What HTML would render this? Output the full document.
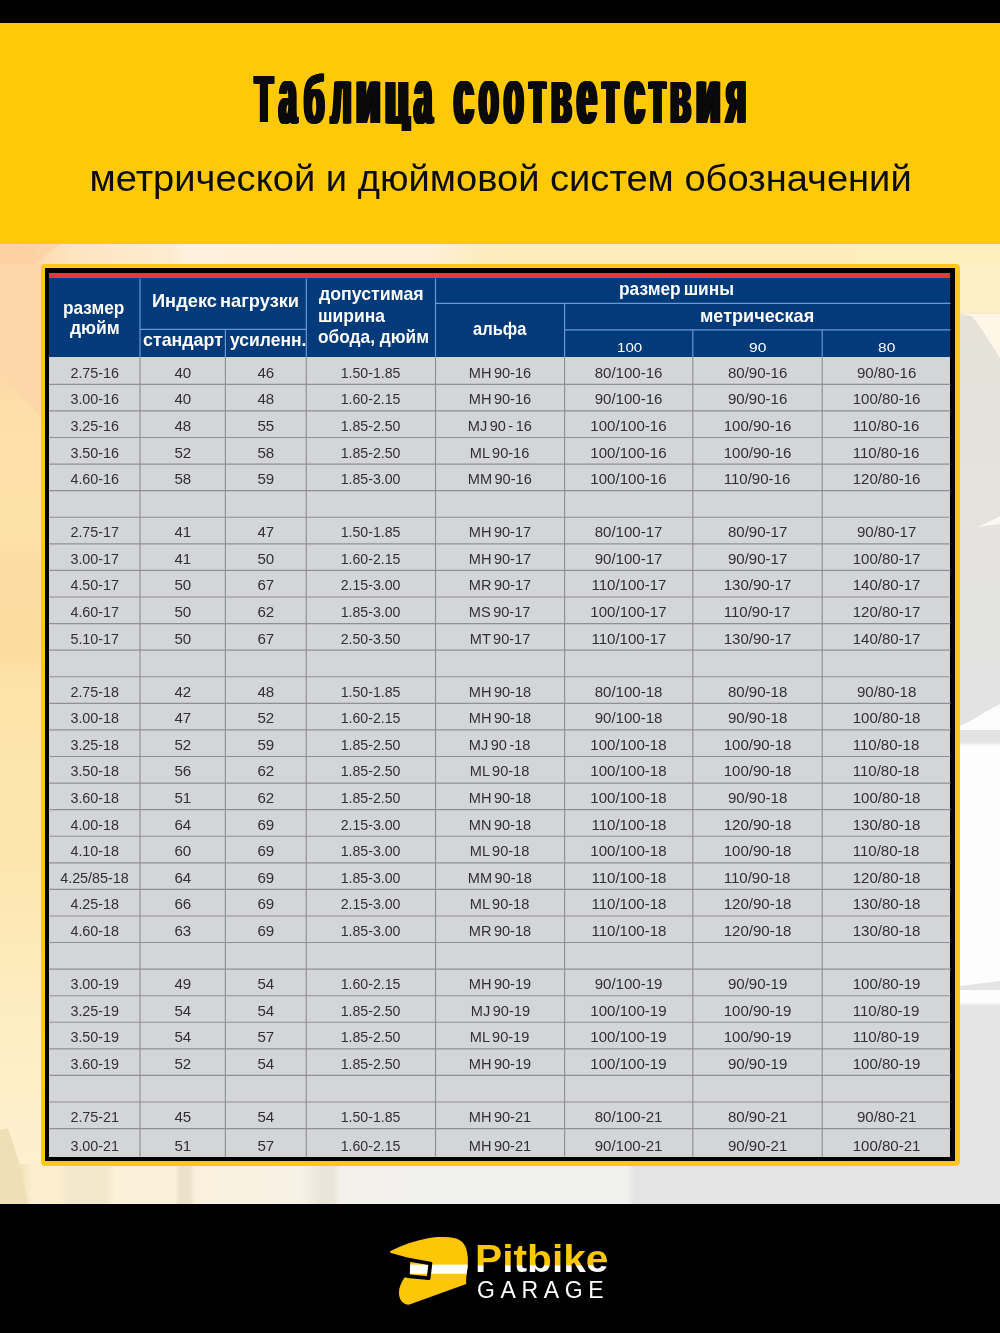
<!DOCTYPE html>
<html lang="ru"><head><meta charset="utf-8"><title>Таблица соответствия</title>
<style>
html,body{margin:0;padding:0}
html{width:1000px;height:1333px;overflow:hidden;background:#000}
body{width:1000px;height:1333px;position:relative;overflow:hidden;background:#fbefd2;font-family:"Liberation Sans",sans-serif}
.abs{position:absolute}
#topbar{left:0;top:0;width:1000px;height:22.5px;background:#000}
#head{left:0;top:22.5px;width:1000px;height:222.3px;background:#ffc907}
#bg{left:0;top:244px;width:1000px;height:960px;overflow:hidden;background:#d4d5d7}
#foot{left:0;top:1203.5px;width:1000px;height:129.5px;background:#000}
.tt{position:absolute;font-weight:bold;color:#0a0a0a;white-space:nowrap;line-height:90px;height:90px}
.tt span{display:inline-block;text-shadow:1.175px 0 0 #0a0a0a,-1.175px 0 0 #0a0a0a,2.35px 0 0 #0a0a0a,-2.35px 0 0 #0a0a0a,3.525px 0 0 #0a0a0a,-3.525px 0 0 #0a0a0a,4.7px 0 0 #0a0a0a,-4.7px 0 0 #0a0a0a}
#sub{left:0.75px;top:154.4px;width:999px;text-align:center;font-size:37.5px;line-height:48px;color:#0c0c0c;white-space:nowrap}
#sub span{display:inline-block;transform-origin:50% 50%;transform:scaleX(1.016)}
#fy{left:40.8px;top:263.7px;width:919.4px;height:901.9px;background:#fdc916;border-radius:4px}
#fb{left:45px;top:268.2px;width:910.2px;height:893px;background:#000}
#red{left:49px;top:272.7px;width:901.3px;height:6px;background:#e03c31}
#blue{left:49px;top:278.4px;width:901.3px;height:78.8px;background:#023a7a}
#grey{left:49px;top:357px;width:901.3px;height:799.8px;background:#d4d5d7}
.hl{position:absolute;background:#5f8fca}
.gl{position:absolute;background:#8e9093}
.c{position:absolute;text-align:center;font-size:14px;line-height:16px;height:16px;color:#303036;white-space:nowrap}
.c span{display:inline-block;transform-origin:50% 50%}
.h{position:absolute;color:#fff;font-weight:bold;white-space:nowrap}
.h span,.hn span{display:inline-block;transform-origin:0 50%}
.hn{position:absolute;color:#fff;white-space:nowrap}
</style></head><body>
<div id="topbar" class="abs"></div>
<div id="head" class="abs"></div>
<div class="tt" style="left:255.39px;top:54.3px;font-size:67px"><span style="transform-origin:0 68.5px;transform:scaleX(0.4367)">Т</span></div>
<div class="tt" style="left:279.11px;top:50.8px;font-size:77px"><span style="transform-origin:0 72.0px;transform:scaleX(0.4150)">а</span></div>
<div class="tt" style="left:304.42px;top:50.8px;font-size:77px"><span style="transform-origin:0 72.0px;transform:scale(0.4280,0.875)">б</span></div>
<div class="tt" style="left:331.13px;top:50.8px;font-size:77px"><span style="transform-origin:0 72.0px;transform:scaleX(0.4206)">л</span></div>
<div class="tt" style="left:356.09px;top:50.8px;font-size:77px"><span style="transform-origin:0 72.0px;transform:scaleX(0.5188)">и</span></div>
<div class="tt" style="left:385.18px;top:50.8px;font-size:77px"><span style="clip-path:inset(0 -10px 9.7px -10px);transform-origin:0 72.0px;transform:scaleX(0.5096)">ц</span></div>
<div class="tt" style="left:414px;top:50.8px;font-size:77px"><span style="transform-origin:0 72.0px;transform:scaleX(0.4271)">а</span></div>
<div class="tt" style="left:453.61px;top:50.8px;font-size:77px"><span style="transform-origin:0 72.0px;transform:scaleX(0.4570)">с</span></div>
<div class="tt" style="left:479.36px;top:50.8px;font-size:77px"><span style="transform-origin:0 72.0px;transform:scaleX(0.4136)">о</span></div>
<div class="tt" style="left:504.36px;top:50.8px;font-size:77px"><span style="transform-origin:0 72.0px;transform:scaleX(0.4136)">о</span></div>
<div class="tt" style="left:529px;top:50.8px;font-size:77px"><span style="transform-origin:0 72.0px;transform:scaleX(0.4500)">т</span></div>
<div class="tt" style="left:551.09px;top:50.8px;font-size:77px"><span style="transform-origin:0 72.0px;transform:scaleX(0.4360)">в</span></div>
<div class="tt" style="left:576.6px;top:50.8px;font-size:77px"><span style="transform-origin:0 72.0px;transform:scaleX(0.4590)">е</span></div>
<div class="tt" style="left:602.2px;top:50.8px;font-size:77px"><span style="transform-origin:0 72.0px;transform:scaleX(0.4500)">т</span></div>
<div class="tt" style="left:624.59px;top:50.8px;font-size:77px"><span style="transform-origin:0 72.0px;transform:scaleX(0.4585)">с</span></div>
<div class="tt" style="left:648.8px;top:50.8px;font-size:77px"><span style="transform-origin:0 72.0px;transform:scaleX(0.4500)">т</span></div>
<div class="tt" style="left:670.2px;top:50.8px;font-size:77px"><span style="transform-origin:0 72.0px;transform:scaleX(0.4418)">в</span></div>
<div class="tt" style="left:696.09px;top:50.8px;font-size:77px"><span style="transform-origin:0 72.0px;transform:scaleX(0.5188)">и</span></div>
<div class="tt" style="left:725.95px;top:50.8px;font-size:77px"><span style="transform-origin:0 72.0px;transform:scaleX(0.4518)">я</span></div>
<div id="sub" class="abs"><span>метрической и дюймовой систем обозначений</span></div>
<div id="bg" class="abs"><div class="abs" style="left:0;top:0;width:1000px;height:20px;background:linear-gradient(to right,#fdd2a5 0,#fdd4a8 35px,#feddb5 45px,#fee3bf 70px,#fee8c8 120px,#feebcf 170px,#fff1dc 185px,#fff0d8 430px,#feecc2 470px,#feedba 520px,#feedba 750px,#feefbe 1000px)"></div>
<div class="abs" style="left:0;top:20px;width:45px;height:940px;background:linear-gradient(to bottom,#fdd6a6 0,#fdd8a8 110px,#fde0a8 150px,#fde2a8 270px,#fcdca2 300px,#fcdba0 390px,#fde3a8 420px,#fde6ae 600px,#fdebbc 700px,#feefc8 820px,#fdf0cf 900px,#f9ecca 960px)"></div>
<div class="abs" style="left:955px;top:20px;width:45px;height:940px;background:linear-gradient(to bottom,#fdf0c6 0,#fdf0c6 48px,#e6e2d8 52px,#e4e2dc 150px,#e4e3df 300px,#e3e3e3 420px,#e3e3e3 478px,#fcfcfc 482px,#fdfdfd 738px,#e4e4e4 742px,#e5e5e5 940px)"></div>
<div class="abs" style="left:0;top:920px;width:1000px;height:40px;background:linear-gradient(to right,#f0e0b8 0,#f3e4bd 22px,#fdf0d2 34px,#fbeecf 60px,#f3e8cc 70px,#f3e8cc 105px,#fbf0d8 115px,#faf0da 175px,#ece2cc 180px,#ece2cc 190px,#faf1dd 195px,#f8f2e6 300px,#ebe5d9 322px,#ebe5d9 334px,#f3f1eb 340px,#f0f0ee 450px,#f0f0ee 628px,#e4e4e4 634px,#e5e5e5 1000px)"></div>
<svg class="abs" style="left:0;top:0" width="1000" height="960" viewBox="0 244 1000 960">
<polygon points="0,244 60,244 0,290" fill="#fdd0a0" opacity="0.6"/>
<polygon points="0,372 41,418 41,264 0,264" fill="#fdd7a8"/>
<polygon points="962,314 972,316 982,330 1000,358 1000,314" fill="#fef7e8"/>
<polygon points="978,527 1000,516 1000,524" fill="#faf8f2"/>
<polygon points="960,726 972,720 985,712 1000,704 1000,730 960,730" fill="#fcfcfc"/>
<polygon points="960,986 1000,981 1000,990 960,990" fill="#e4e4e4"/>
<polygon points="0,1130 8,1128 20,1165 28,1204 0,1204" fill="#efdfb6"/>
</svg></div>
<div id="fy" class="abs"></div><div id="fb" class="abs"></div>
<div id="red" class="abs"></div><div id="blue" class="abs"></div><div id="grey" class="abs"></div>

<svg class="abs" style="left:0;top:0" width="1000" height="1333" viewBox="0 0 1000 1333">
<line x1="140.00" y1="278.40" x2="140.00" y2="357.00" stroke="#6a98d2" stroke-width="1.2"/>
<line x1="225.40" y1="329.30" x2="225.40" y2="357.00" stroke="#6a98d2" stroke-width="1.2"/>
<line x1="306.30" y1="278.40" x2="306.30" y2="357.00" stroke="#6a98d2" stroke-width="1.2"/>
<line x1="435.50" y1="278.40" x2="435.50" y2="357.00" stroke="#6a98d2" stroke-width="1.2"/>
<line x1="564.60" y1="303.30" x2="564.60" y2="357.00" stroke="#6a98d2" stroke-width="1.2"/>
<line x1="692.80" y1="329.80" x2="692.80" y2="357.00" stroke="#6a98d2" stroke-width="1.2"/>
<line x1="822.20" y1="329.80" x2="822.20" y2="357.00" stroke="#6a98d2" stroke-width="1.2"/>
<line x1="140.00" y1="329.30" x2="306.30" y2="329.30" stroke="#6a98d2" stroke-width="1.2"/>
<line x1="435.50" y1="303.30" x2="950.50" y2="303.30" stroke="#6a98d2" stroke-width="1.2"/>
<line x1="564.60" y1="329.80" x2="950.50" y2="329.80" stroke="#6a98d2" stroke-width="1.2"/>
<line x1="140.00" y1="357.00" x2="140.00" y2="1156.80" stroke="#8f9093" stroke-width="1.15"/>
<line x1="225.40" y1="357.00" x2="225.40" y2="1156.80" stroke="#8f9093" stroke-width="1.15"/>
<line x1="306.30" y1="357.00" x2="306.30" y2="1156.80" stroke="#8f9093" stroke-width="1.15"/>
<line x1="435.50" y1="357.00" x2="435.50" y2="1156.80" stroke="#8f9093" stroke-width="1.15"/>
<line x1="564.60" y1="357.00" x2="564.60" y2="1156.80" stroke="#8f9093" stroke-width="1.15"/>
<line x1="692.80" y1="357.00" x2="692.80" y2="1156.80" stroke="#8f9093" stroke-width="1.15"/>
<line x1="822.20" y1="357.00" x2="822.20" y2="1156.80" stroke="#8f9093" stroke-width="1.15"/>
<line x1="49.00" y1="384.36" x2="950.50" y2="384.36" stroke="#8f9093" stroke-width="1.15"/>
<line x1="49.00" y1="410.94" x2="950.50" y2="410.94" stroke="#8f9093" stroke-width="1.15"/>
<line x1="49.00" y1="437.52" x2="950.50" y2="437.52" stroke="#8f9093" stroke-width="1.15"/>
<line x1="49.00" y1="464.10" x2="950.50" y2="464.10" stroke="#8f9093" stroke-width="1.15"/>
<line x1="49.00" y1="490.68" x2="950.50" y2="490.68" stroke="#8f9093" stroke-width="1.15"/>
<line x1="49.00" y1="517.26" x2="950.50" y2="517.26" stroke="#8f9093" stroke-width="1.15"/>
<line x1="49.00" y1="543.84" x2="950.50" y2="543.84" stroke="#8f9093" stroke-width="1.15"/>
<line x1="49.00" y1="570.42" x2="950.50" y2="570.42" stroke="#8f9093" stroke-width="1.15"/>
<line x1="49.00" y1="597.00" x2="950.50" y2="597.00" stroke="#8f9093" stroke-width="1.15"/>
<line x1="49.00" y1="623.58" x2="950.50" y2="623.58" stroke="#8f9093" stroke-width="1.15"/>
<line x1="49.00" y1="650.16" x2="950.50" y2="650.16" stroke="#8f9093" stroke-width="1.15"/>
<line x1="49.00" y1="676.74" x2="950.50" y2="676.74" stroke="#8f9093" stroke-width="1.15"/>
<line x1="49.00" y1="703.32" x2="950.50" y2="703.32" stroke="#8f9093" stroke-width="1.15"/>
<line x1="49.00" y1="729.90" x2="950.50" y2="729.90" stroke="#8f9093" stroke-width="1.15"/>
<line x1="49.00" y1="756.48" x2="950.50" y2="756.48" stroke="#8f9093" stroke-width="1.15"/>
<line x1="49.00" y1="783.06" x2="950.50" y2="783.06" stroke="#8f9093" stroke-width="1.15"/>
<line x1="49.00" y1="809.64" x2="950.50" y2="809.64" stroke="#8f9093" stroke-width="1.15"/>
<line x1="49.00" y1="836.22" x2="950.50" y2="836.22" stroke="#8f9093" stroke-width="1.15"/>
<line x1="49.00" y1="862.80" x2="950.50" y2="862.80" stroke="#8f9093" stroke-width="1.15"/>
<line x1="49.00" y1="889.38" x2="950.50" y2="889.38" stroke="#8f9093" stroke-width="1.15"/>
<line x1="49.00" y1="915.96" x2="950.50" y2="915.96" stroke="#8f9093" stroke-width="1.15"/>
<line x1="49.00" y1="942.54" x2="950.50" y2="942.54" stroke="#8f9093" stroke-width="1.15"/>
<line x1="49.00" y1="969.12" x2="950.50" y2="969.12" stroke="#8f9093" stroke-width="1.15"/>
<line x1="49.00" y1="995.70" x2="950.50" y2="995.70" stroke="#8f9093" stroke-width="1.15"/>
<line x1="49.00" y1="1022.28" x2="950.50" y2="1022.28" stroke="#8f9093" stroke-width="1.15"/>
<line x1="49.00" y1="1048.86" x2="950.50" y2="1048.86" stroke="#8f9093" stroke-width="1.15"/>
<line x1="49.00" y1="1075.44" x2="950.50" y2="1075.44" stroke="#8f9093" stroke-width="1.15"/>
<line x1="49.00" y1="1102.02" x2="950.50" y2="1102.02" stroke="#8f9093" stroke-width="1.15"/>
<line x1="49.00" y1="1128.60" x2="950.50" y2="1128.60" stroke="#8f9093" stroke-width="1.15"/>
</svg>
<div class="h" style="left:62.68px;top:296.8px;font-size:18.5px;line-height:22.2px;"><span style="transform:scaleX(0.9327)">размер</span></div>
<div class="h" style="left:70.06px;top:317.4px;font-size:18.5px;line-height:22.2px;"><span style="transform:scaleX(0.9462)">дюйм</span></div>
<div class="h" style="left:151.52px;top:289.9px;font-size:18.5px;line-height:22.2px;word-spacing:-2px;"><span style="transform:scaleX(0.9867)">Индекс нагрузки</span></div>
<div class="h" style="left:142.73px;top:329.3px;font-size:18.5px;line-height:22.2px;"><span style="transform:scaleX(0.9627)">стандарт</span></div>
<div class="h" style="left:229.96px;top:329.3px;font-size:18.5px;line-height:22.2px;"><span style="transform:scaleX(0.9464)">усиленн.</span></div>
<div class="h" style="left:318.66px;top:283px;font-size:18.5px;line-height:22.2px;"><span style="transform:scaleX(0.9578)">допустимая</span></div>
<div class="h" style="left:318.37px;top:304.5px;font-size:18.5px;line-height:22.2px;"><span style="transform:scaleX(0.9434)">ширина</span></div>
<div class="h" style="left:318.44px;top:325.8px;font-size:18.5px;line-height:22.2px;"><span style="transform:scaleX(0.9357)">обода, дюйм</span></div>
<div class="h" style="left:473.01px;top:318.4px;font-size:18.5px;line-height:22.2px;"><span style="transform:scaleX(0.8915)">альфа</span></div>
<div class="h" style="left:619.08px;top:278.25px;font-size:18.5px;line-height:22.2px;word-spacing:-2px;"><span style="transform:scaleX(0.9372)">размер шины</span></div>
<div class="h" style="left:700.43px;top:304.8px;font-size:18.5px;line-height:22.2px;"><span style="transform:scaleX(0.9773)">метрическая</span></div>
<div class="hn" style="left:616.73px;top:339.95px;font-size:13.6px;line-height:16.3px;"><span style="transform:scaleX(1.1111)">100</span></div>
<div class="hn" style="left:749.25px;top:339.95px;font-size:13.6px;line-height:16.3px;"><span style="transform:scaleX(1.1470)">90</span></div>
<div class="hn" style="left:877.81px;top:339.95px;font-size:13.6px;line-height:16.3px;"><span style="transform:scaleX(1.1429)">80</span></div>
<div class="c" style="left:49px;top:364.78px;width:91px;"><span style="transform:scaleX(1.025)">2.75-16</span></div>
<div class="c" style="left:140px;top:364.78px;width:85.4px;"><span style="transform:scaleX(1.080)">40</span></div>
<div class="c" style="left:225.4px;top:364.78px;width:80.9px;"><span style="transform:scaleX(1.080)">46</span></div>
<div class="c" style="left:306.3px;top:364.78px;width:129.2px;"><span style="transform:scaleX(1.010)">1.50-1.85</span></div>
<div class="c" style="left:435.5px;top:364.78px;width:129.1px;word-spacing:-1.5px;"><span style="transform:scaleX(1.040)">MH 90-16</span></div>
<div class="c" style="left:564.6px;top:364.78px;width:128.2px;"><span style="transform:scaleX(1.075)">80/100-16</span></div>
<div class="c" style="left:692.8px;top:364.78px;width:129.4px;"><span style="transform:scaleX(1.075)">80/90-16</span></div>
<div class="c" style="left:822.2px;top:364.78px;width:128.3px;"><span style="transform:scaleX(1.075)">90/80-16</span></div>
<div class="c" style="left:49px;top:391.36px;width:91px;"><span style="transform:scaleX(1.025)">3.00-16</span></div>
<div class="c" style="left:140px;top:391.36px;width:85.4px;"><span style="transform:scaleX(1.080)">40</span></div>
<div class="c" style="left:225.4px;top:391.36px;width:80.9px;"><span style="transform:scaleX(1.080)">48</span></div>
<div class="c" style="left:306.3px;top:391.36px;width:129.2px;"><span style="transform:scaleX(1.010)">1.60-2.15</span></div>
<div class="c" style="left:435.5px;top:391.36px;width:129.1px;word-spacing:-1.5px;"><span style="transform:scaleX(1.040)">MH 90-16</span></div>
<div class="c" style="left:564.6px;top:391.36px;width:128.2px;"><span style="transform:scaleX(1.075)">90/100-16</span></div>
<div class="c" style="left:692.8px;top:391.36px;width:129.4px;"><span style="transform:scaleX(1.075)">90/90-16</span></div>
<div class="c" style="left:822.2px;top:391.36px;width:128.3px;"><span style="transform:scaleX(1.075)">100/80-16</span></div>
<div class="c" style="left:49px;top:417.94px;width:91px;"><span style="transform:scaleX(1.025)">3.25-16</span></div>
<div class="c" style="left:140px;top:417.94px;width:85.4px;"><span style="transform:scaleX(1.080)">48</span></div>
<div class="c" style="left:225.4px;top:417.94px;width:80.9px;"><span style="transform:scaleX(1.080)">55</span></div>
<div class="c" style="left:306.3px;top:417.94px;width:129.2px;"><span style="transform:scaleX(1.010)">1.85-2.50</span></div>
<div class="c" style="left:435.5px;top:417.94px;width:129.1px;word-spacing:-1.5px;"><span style="transform:scaleX(1.040)">MJ 90 - 16</span></div>
<div class="c" style="left:564.6px;top:417.94px;width:128.2px;"><span style="transform:scaleX(1.075)">100/100-16</span></div>
<div class="c" style="left:692.8px;top:417.94px;width:129.4px;"><span style="transform:scaleX(1.075)">100/90-16</span></div>
<div class="c" style="left:822.2px;top:417.94px;width:128.3px;"><span style="transform:scaleX(1.075)">110/80-16</span></div>
<div class="c" style="left:49px;top:444.52px;width:91px;"><span style="transform:scaleX(1.025)">3.50-16</span></div>
<div class="c" style="left:140px;top:444.52px;width:85.4px;"><span style="transform:scaleX(1.080)">52</span></div>
<div class="c" style="left:225.4px;top:444.52px;width:80.9px;"><span style="transform:scaleX(1.080)">58</span></div>
<div class="c" style="left:306.3px;top:444.52px;width:129.2px;"><span style="transform:scaleX(1.010)">1.85-2.50</span></div>
<div class="c" style="left:435.5px;top:444.52px;width:129.1px;word-spacing:-1.5px;"><span style="transform:scaleX(1.040)">ML 90-16</span></div>
<div class="c" style="left:564.6px;top:444.52px;width:128.2px;"><span style="transform:scaleX(1.075)">100/100-16</span></div>
<div class="c" style="left:692.8px;top:444.52px;width:129.4px;"><span style="transform:scaleX(1.075)">100/90-16</span></div>
<div class="c" style="left:822.2px;top:444.52px;width:128.3px;"><span style="transform:scaleX(1.075)">110/80-16</span></div>
<div class="c" style="left:49px;top:471.1px;width:91px;"><span style="transform:scaleX(1.025)">4.60-16</span></div>
<div class="c" style="left:140px;top:471.1px;width:85.4px;"><span style="transform:scaleX(1.080)">58</span></div>
<div class="c" style="left:225.4px;top:471.1px;width:80.9px;"><span style="transform:scaleX(1.080)">59</span></div>
<div class="c" style="left:306.3px;top:471.1px;width:129.2px;"><span style="transform:scaleX(1.010)">1.85-3.00</span></div>
<div class="c" style="left:435.5px;top:471.1px;width:129.1px;word-spacing:-1.5px;"><span style="transform:scaleX(1.040)">MM 90-16</span></div>
<div class="c" style="left:564.6px;top:471.1px;width:128.2px;"><span style="transform:scaleX(1.075)">100/100-16</span></div>
<div class="c" style="left:692.8px;top:471.1px;width:129.4px;"><span style="transform:scaleX(1.075)">110/90-16</span></div>
<div class="c" style="left:822.2px;top:471.1px;width:128.3px;"><span style="transform:scaleX(1.075)">120/80-16</span></div>
<div class="c" style="left:49px;top:524.26px;width:91px;"><span style="transform:scaleX(1.025)">2.75-17</span></div>
<div class="c" style="left:140px;top:524.26px;width:85.4px;"><span style="transform:scaleX(1.080)">41</span></div>
<div class="c" style="left:225.4px;top:524.26px;width:80.9px;"><span style="transform:scaleX(1.080)">47</span></div>
<div class="c" style="left:306.3px;top:524.26px;width:129.2px;"><span style="transform:scaleX(1.010)">1.50-1.85</span></div>
<div class="c" style="left:435.5px;top:524.26px;width:129.1px;word-spacing:-1.5px;"><span style="transform:scaleX(1.040)">MH 90-17</span></div>
<div class="c" style="left:564.6px;top:524.26px;width:128.2px;"><span style="transform:scaleX(1.075)">80/100-17</span></div>
<div class="c" style="left:692.8px;top:524.26px;width:129.4px;"><span style="transform:scaleX(1.075)">80/90-17</span></div>
<div class="c" style="left:822.2px;top:524.26px;width:128.3px;"><span style="transform:scaleX(1.075)">90/80-17</span></div>
<div class="c" style="left:49px;top:550.84px;width:91px;"><span style="transform:scaleX(1.025)">3.00-17</span></div>
<div class="c" style="left:140px;top:550.84px;width:85.4px;"><span style="transform:scaleX(1.080)">41</span></div>
<div class="c" style="left:225.4px;top:550.84px;width:80.9px;"><span style="transform:scaleX(1.080)">50</span></div>
<div class="c" style="left:306.3px;top:550.84px;width:129.2px;"><span style="transform:scaleX(1.010)">1.60-2.15</span></div>
<div class="c" style="left:435.5px;top:550.84px;width:129.1px;word-spacing:-1.5px;"><span style="transform:scaleX(1.040)">MH 90-17</span></div>
<div class="c" style="left:564.6px;top:550.84px;width:128.2px;"><span style="transform:scaleX(1.075)">90/100-17</span></div>
<div class="c" style="left:692.8px;top:550.84px;width:129.4px;"><span style="transform:scaleX(1.075)">90/90-17</span></div>
<div class="c" style="left:822.2px;top:550.84px;width:128.3px;"><span style="transform:scaleX(1.075)">100/80-17</span></div>
<div class="c" style="left:49px;top:577.42px;width:91px;"><span style="transform:scaleX(1.025)">4.50-17</span></div>
<div class="c" style="left:140px;top:577.42px;width:85.4px;"><span style="transform:scaleX(1.080)">50</span></div>
<div class="c" style="left:225.4px;top:577.42px;width:80.9px;"><span style="transform:scaleX(1.080)">67</span></div>
<div class="c" style="left:306.3px;top:577.42px;width:129.2px;"><span style="transform:scaleX(1.010)">2.15-3.00</span></div>
<div class="c" style="left:435.5px;top:577.42px;width:129.1px;word-spacing:-1.5px;"><span style="transform:scaleX(1.040)">MR 90-17</span></div>
<div class="c" style="left:564.6px;top:577.42px;width:128.2px;"><span style="transform:scaleX(1.075)">110/100-17</span></div>
<div class="c" style="left:692.8px;top:577.42px;width:129.4px;"><span style="transform:scaleX(1.075)">130/90-17</span></div>
<div class="c" style="left:822.2px;top:577.42px;width:128.3px;"><span style="transform:scaleX(1.075)">140/80-17</span></div>
<div class="c" style="left:49px;top:604px;width:91px;"><span style="transform:scaleX(1.025)">4.60-17</span></div>
<div class="c" style="left:140px;top:604px;width:85.4px;"><span style="transform:scaleX(1.080)">50</span></div>
<div class="c" style="left:225.4px;top:604px;width:80.9px;"><span style="transform:scaleX(1.080)">62</span></div>
<div class="c" style="left:306.3px;top:604px;width:129.2px;"><span style="transform:scaleX(1.010)">1.85-3.00</span></div>
<div class="c" style="left:435.5px;top:604px;width:129.1px;word-spacing:-1.5px;"><span style="transform:scaleX(1.040)">MS 90-17</span></div>
<div class="c" style="left:564.6px;top:604px;width:128.2px;"><span style="transform:scaleX(1.075)">100/100-17</span></div>
<div class="c" style="left:692.8px;top:604px;width:129.4px;"><span style="transform:scaleX(1.075)">110/90-17</span></div>
<div class="c" style="left:822.2px;top:604px;width:128.3px;"><span style="transform:scaleX(1.075)">120/80-17</span></div>
<div class="c" style="left:49px;top:630.58px;width:91px;"><span style="transform:scaleX(1.025)">5.10-17</span></div>
<div class="c" style="left:140px;top:630.58px;width:85.4px;"><span style="transform:scaleX(1.080)">50</span></div>
<div class="c" style="left:225.4px;top:630.58px;width:80.9px;"><span style="transform:scaleX(1.080)">67</span></div>
<div class="c" style="left:306.3px;top:630.58px;width:129.2px;"><span style="transform:scaleX(1.010)">2.50-3.50</span></div>
<div class="c" style="left:435.5px;top:630.58px;width:129.1px;word-spacing:-1.5px;"><span style="transform:scaleX(1.040)">MT 90-17</span></div>
<div class="c" style="left:564.6px;top:630.58px;width:128.2px;"><span style="transform:scaleX(1.075)">110/100-17</span></div>
<div class="c" style="left:692.8px;top:630.58px;width:129.4px;"><span style="transform:scaleX(1.075)">130/90-17</span></div>
<div class="c" style="left:822.2px;top:630.58px;width:128.3px;"><span style="transform:scaleX(1.075)">140/80-17</span></div>
<div class="c" style="left:49px;top:683.74px;width:91px;"><span style="transform:scaleX(1.025)">2.75-18</span></div>
<div class="c" style="left:140px;top:683.74px;width:85.4px;"><span style="transform:scaleX(1.080)">42</span></div>
<div class="c" style="left:225.4px;top:683.74px;width:80.9px;"><span style="transform:scaleX(1.080)">48</span></div>
<div class="c" style="left:306.3px;top:683.74px;width:129.2px;"><span style="transform:scaleX(1.010)">1.50-1.85</span></div>
<div class="c" style="left:435.5px;top:683.74px;width:129.1px;word-spacing:-1.5px;"><span style="transform:scaleX(1.040)">MH 90-18</span></div>
<div class="c" style="left:564.6px;top:683.74px;width:128.2px;"><span style="transform:scaleX(1.075)">80/100-18</span></div>
<div class="c" style="left:692.8px;top:683.74px;width:129.4px;"><span style="transform:scaleX(1.075)">80/90-18</span></div>
<div class="c" style="left:822.2px;top:683.74px;width:128.3px;"><span style="transform:scaleX(1.075)">90/80-18</span></div>
<div class="c" style="left:49px;top:710.32px;width:91px;"><span style="transform:scaleX(1.025)">3.00-18</span></div>
<div class="c" style="left:140px;top:710.32px;width:85.4px;"><span style="transform:scaleX(1.080)">47</span></div>
<div class="c" style="left:225.4px;top:710.32px;width:80.9px;"><span style="transform:scaleX(1.080)">52</span></div>
<div class="c" style="left:306.3px;top:710.32px;width:129.2px;"><span style="transform:scaleX(1.010)">1.60-2.15</span></div>
<div class="c" style="left:435.5px;top:710.32px;width:129.1px;word-spacing:-1.5px;"><span style="transform:scaleX(1.040)">MH 90-18</span></div>
<div class="c" style="left:564.6px;top:710.32px;width:128.2px;"><span style="transform:scaleX(1.075)">90/100-18</span></div>
<div class="c" style="left:692.8px;top:710.32px;width:129.4px;"><span style="transform:scaleX(1.075)">90/90-18</span></div>
<div class="c" style="left:822.2px;top:710.32px;width:128.3px;"><span style="transform:scaleX(1.075)">100/80-18</span></div>
<div class="c" style="left:49px;top:736.9px;width:91px;"><span style="transform:scaleX(1.025)">3.25-18</span></div>
<div class="c" style="left:140px;top:736.9px;width:85.4px;"><span style="transform:scaleX(1.080)">52</span></div>
<div class="c" style="left:225.4px;top:736.9px;width:80.9px;"><span style="transform:scaleX(1.080)">59</span></div>
<div class="c" style="left:306.3px;top:736.9px;width:129.2px;"><span style="transform:scaleX(1.010)">1.85-2.50</span></div>
<div class="c" style="left:435.5px;top:736.9px;width:129.1px;word-spacing:-1.5px;"><span style="transform:scaleX(1.040)">MJ 90 -18</span></div>
<div class="c" style="left:564.6px;top:736.9px;width:128.2px;"><span style="transform:scaleX(1.075)">100/100-18</span></div>
<div class="c" style="left:692.8px;top:736.9px;width:129.4px;"><span style="transform:scaleX(1.075)">100/90-18</span></div>
<div class="c" style="left:822.2px;top:736.9px;width:128.3px;"><span style="transform:scaleX(1.075)">110/80-18</span></div>
<div class="c" style="left:49px;top:763.48px;width:91px;"><span style="transform:scaleX(1.025)">3.50-18</span></div>
<div class="c" style="left:140px;top:763.48px;width:85.4px;"><span style="transform:scaleX(1.080)">56</span></div>
<div class="c" style="left:225.4px;top:763.48px;width:80.9px;"><span style="transform:scaleX(1.080)">62</span></div>
<div class="c" style="left:306.3px;top:763.48px;width:129.2px;"><span style="transform:scaleX(1.010)">1.85-2.50</span></div>
<div class="c" style="left:435.5px;top:763.48px;width:129.1px;word-spacing:-1.5px;"><span style="transform:scaleX(1.040)">ML 90-18</span></div>
<div class="c" style="left:564.6px;top:763.48px;width:128.2px;"><span style="transform:scaleX(1.075)">100/100-18</span></div>
<div class="c" style="left:692.8px;top:763.48px;width:129.4px;"><span style="transform:scaleX(1.075)">100/90-18</span></div>
<div class="c" style="left:822.2px;top:763.48px;width:128.3px;"><span style="transform:scaleX(1.075)">110/80-18</span></div>
<div class="c" style="left:49px;top:790.06px;width:91px;"><span style="transform:scaleX(1.025)">3.60-18</span></div>
<div class="c" style="left:140px;top:790.06px;width:85.4px;"><span style="transform:scaleX(1.080)">51</span></div>
<div class="c" style="left:225.4px;top:790.06px;width:80.9px;"><span style="transform:scaleX(1.080)">62</span></div>
<div class="c" style="left:306.3px;top:790.06px;width:129.2px;"><span style="transform:scaleX(1.010)">1.85-2.50</span></div>
<div class="c" style="left:435.5px;top:790.06px;width:129.1px;word-spacing:-1.5px;"><span style="transform:scaleX(1.040)">MH 90-18</span></div>
<div class="c" style="left:564.6px;top:790.06px;width:128.2px;"><span style="transform:scaleX(1.075)">100/100-18</span></div>
<div class="c" style="left:692.8px;top:790.06px;width:129.4px;"><span style="transform:scaleX(1.075)">90/90-18</span></div>
<div class="c" style="left:822.2px;top:790.06px;width:128.3px;"><span style="transform:scaleX(1.075)">100/80-18</span></div>
<div class="c" style="left:49px;top:816.64px;width:91px;"><span style="transform:scaleX(1.025)">4.00-18</span></div>
<div class="c" style="left:140px;top:816.64px;width:85.4px;"><span style="transform:scaleX(1.080)">64</span></div>
<div class="c" style="left:225.4px;top:816.64px;width:80.9px;"><span style="transform:scaleX(1.080)">69</span></div>
<div class="c" style="left:306.3px;top:816.64px;width:129.2px;"><span style="transform:scaleX(1.010)">2.15-3.00</span></div>
<div class="c" style="left:435.5px;top:816.64px;width:129.1px;word-spacing:-1.5px;"><span style="transform:scaleX(1.040)">MN 90-18</span></div>
<div class="c" style="left:564.6px;top:816.64px;width:128.2px;"><span style="transform:scaleX(1.075)">110/100-18</span></div>
<div class="c" style="left:692.8px;top:816.64px;width:129.4px;"><span style="transform:scaleX(1.075)">120/90-18</span></div>
<div class="c" style="left:822.2px;top:816.64px;width:128.3px;"><span style="transform:scaleX(1.075)">130/80-18</span></div>
<div class="c" style="left:49px;top:843.22px;width:91px;"><span style="transform:scaleX(1.025)">4.10-18</span></div>
<div class="c" style="left:140px;top:843.22px;width:85.4px;"><span style="transform:scaleX(1.080)">60</span></div>
<div class="c" style="left:225.4px;top:843.22px;width:80.9px;"><span style="transform:scaleX(1.080)">69</span></div>
<div class="c" style="left:306.3px;top:843.22px;width:129.2px;"><span style="transform:scaleX(1.010)">1.85-3.00</span></div>
<div class="c" style="left:435.5px;top:843.22px;width:129.1px;word-spacing:-1.5px;"><span style="transform:scaleX(1.040)">ML 90-18</span></div>
<div class="c" style="left:564.6px;top:843.22px;width:128.2px;"><span style="transform:scaleX(1.075)">100/100-18</span></div>
<div class="c" style="left:692.8px;top:843.22px;width:129.4px;"><span style="transform:scaleX(1.075)">100/90-18</span></div>
<div class="c" style="left:822.2px;top:843.22px;width:128.3px;"><span style="transform:scaleX(1.075)">110/80-18</span></div>
<div class="c" style="left:49px;top:869.8px;width:91px;"><span style="transform:scaleX(1.025)">4.25/85-18</span></div>
<div class="c" style="left:140px;top:869.8px;width:85.4px;"><span style="transform:scaleX(1.080)">64</span></div>
<div class="c" style="left:225.4px;top:869.8px;width:80.9px;"><span style="transform:scaleX(1.080)">69</span></div>
<div class="c" style="left:306.3px;top:869.8px;width:129.2px;"><span style="transform:scaleX(1.010)">1.85-3.00</span></div>
<div class="c" style="left:435.5px;top:869.8px;width:129.1px;word-spacing:-1.5px;"><span style="transform:scaleX(1.040)">MM 90-18</span></div>
<div class="c" style="left:564.6px;top:869.8px;width:128.2px;"><span style="transform:scaleX(1.075)">110/100-18</span></div>
<div class="c" style="left:692.8px;top:869.8px;width:129.4px;"><span style="transform:scaleX(1.075)">110/90-18</span></div>
<div class="c" style="left:822.2px;top:869.8px;width:128.3px;"><span style="transform:scaleX(1.075)">120/80-18</span></div>
<div class="c" style="left:49px;top:896.38px;width:91px;"><span style="transform:scaleX(1.025)">4.25-18</span></div>
<div class="c" style="left:140px;top:896.38px;width:85.4px;"><span style="transform:scaleX(1.080)">66</span></div>
<div class="c" style="left:225.4px;top:896.38px;width:80.9px;"><span style="transform:scaleX(1.080)">69</span></div>
<div class="c" style="left:306.3px;top:896.38px;width:129.2px;"><span style="transform:scaleX(1.010)">2.15-3.00</span></div>
<div class="c" style="left:435.5px;top:896.38px;width:129.1px;word-spacing:-1.5px;"><span style="transform:scaleX(1.040)">ML 90-18</span></div>
<div class="c" style="left:564.6px;top:896.38px;width:128.2px;"><span style="transform:scaleX(1.075)">110/100-18</span></div>
<div class="c" style="left:692.8px;top:896.38px;width:129.4px;"><span style="transform:scaleX(1.075)">120/90-18</span></div>
<div class="c" style="left:822.2px;top:896.38px;width:128.3px;"><span style="transform:scaleX(1.075)">130/80-18</span></div>
<div class="c" style="left:49px;top:922.96px;width:91px;"><span style="transform:scaleX(1.025)">4.60-18</span></div>
<div class="c" style="left:140px;top:922.96px;width:85.4px;"><span style="transform:scaleX(1.080)">63</span></div>
<div class="c" style="left:225.4px;top:922.96px;width:80.9px;"><span style="transform:scaleX(1.080)">69</span></div>
<div class="c" style="left:306.3px;top:922.96px;width:129.2px;"><span style="transform:scaleX(1.010)">1.85-3.00</span></div>
<div class="c" style="left:435.5px;top:922.96px;width:129.1px;word-spacing:-1.5px;"><span style="transform:scaleX(1.040)">MR 90-18</span></div>
<div class="c" style="left:564.6px;top:922.96px;width:128.2px;"><span style="transform:scaleX(1.075)">110/100-18</span></div>
<div class="c" style="left:692.8px;top:922.96px;width:129.4px;"><span style="transform:scaleX(1.075)">120/90-18</span></div>
<div class="c" style="left:822.2px;top:922.96px;width:128.3px;"><span style="transform:scaleX(1.075)">130/80-18</span></div>
<div class="c" style="left:49px;top:976.12px;width:91px;"><span style="transform:scaleX(1.025)">3.00-19</span></div>
<div class="c" style="left:140px;top:976.12px;width:85.4px;"><span style="transform:scaleX(1.080)">49</span></div>
<div class="c" style="left:225.4px;top:976.12px;width:80.9px;"><span style="transform:scaleX(1.080)">54</span></div>
<div class="c" style="left:306.3px;top:976.12px;width:129.2px;"><span style="transform:scaleX(1.010)">1.60-2.15</span></div>
<div class="c" style="left:435.5px;top:976.12px;width:129.1px;word-spacing:-1.5px;"><span style="transform:scaleX(1.040)">MH 90-19</span></div>
<div class="c" style="left:564.6px;top:976.12px;width:128.2px;"><span style="transform:scaleX(1.075)">90/100-19</span></div>
<div class="c" style="left:692.8px;top:976.12px;width:129.4px;"><span style="transform:scaleX(1.075)">90/90-19</span></div>
<div class="c" style="left:822.2px;top:976.12px;width:128.3px;"><span style="transform:scaleX(1.075)">100/80-19</span></div>
<div class="c" style="left:49px;top:1002.7px;width:91px;"><span style="transform:scaleX(1.025)">3.25-19</span></div>
<div class="c" style="left:140px;top:1002.7px;width:85.4px;"><span style="transform:scaleX(1.080)">54</span></div>
<div class="c" style="left:225.4px;top:1002.7px;width:80.9px;"><span style="transform:scaleX(1.080)">54</span></div>
<div class="c" style="left:306.3px;top:1002.7px;width:129.2px;"><span style="transform:scaleX(1.010)">1.85-2.50</span></div>
<div class="c" style="left:435.5px;top:1002.7px;width:129.1px;word-spacing:-1.5px;"><span style="transform:scaleX(1.040)">MJ 90-19</span></div>
<div class="c" style="left:564.6px;top:1002.7px;width:128.2px;"><span style="transform:scaleX(1.075)">100/100-19</span></div>
<div class="c" style="left:692.8px;top:1002.7px;width:129.4px;"><span style="transform:scaleX(1.075)">100/90-19</span></div>
<div class="c" style="left:822.2px;top:1002.7px;width:128.3px;"><span style="transform:scaleX(1.075)">110/80-19</span></div>
<div class="c" style="left:49px;top:1029.28px;width:91px;"><span style="transform:scaleX(1.025)">3.50-19</span></div>
<div class="c" style="left:140px;top:1029.28px;width:85.4px;"><span style="transform:scaleX(1.080)">54</span></div>
<div class="c" style="left:225.4px;top:1029.28px;width:80.9px;"><span style="transform:scaleX(1.080)">57</span></div>
<div class="c" style="left:306.3px;top:1029.28px;width:129.2px;"><span style="transform:scaleX(1.010)">1.85-2.50</span></div>
<div class="c" style="left:435.5px;top:1029.28px;width:129.1px;word-spacing:-1.5px;"><span style="transform:scaleX(1.040)">ML 90-19</span></div>
<div class="c" style="left:564.6px;top:1029.28px;width:128.2px;"><span style="transform:scaleX(1.075)">100/100-19</span></div>
<div class="c" style="left:692.8px;top:1029.28px;width:129.4px;"><span style="transform:scaleX(1.075)">100/90-19</span></div>
<div class="c" style="left:822.2px;top:1029.28px;width:128.3px;"><span style="transform:scaleX(1.075)">110/80-19</span></div>
<div class="c" style="left:49px;top:1055.86px;width:91px;"><span style="transform:scaleX(1.025)">3.60-19</span></div>
<div class="c" style="left:140px;top:1055.86px;width:85.4px;"><span style="transform:scaleX(1.080)">52</span></div>
<div class="c" style="left:225.4px;top:1055.86px;width:80.9px;"><span style="transform:scaleX(1.080)">54</span></div>
<div class="c" style="left:306.3px;top:1055.86px;width:129.2px;"><span style="transform:scaleX(1.010)">1.85-2.50</span></div>
<div class="c" style="left:435.5px;top:1055.86px;width:129.1px;word-spacing:-1.5px;"><span style="transform:scaleX(1.040)">MH 90-19</span></div>
<div class="c" style="left:564.6px;top:1055.86px;width:128.2px;"><span style="transform:scaleX(1.075)">100/100-19</span></div>
<div class="c" style="left:692.8px;top:1055.86px;width:129.4px;"><span style="transform:scaleX(1.075)">90/90-19</span></div>
<div class="c" style="left:822.2px;top:1055.86px;width:128.3px;"><span style="transform:scaleX(1.075)">100/80-19</span></div>
<div class="c" style="left:49px;top:1109.02px;width:91px;"><span style="transform:scaleX(1.025)">2.75-21</span></div>
<div class="c" style="left:140px;top:1109.02px;width:85.4px;"><span style="transform:scaleX(1.080)">45</span></div>
<div class="c" style="left:225.4px;top:1109.02px;width:80.9px;"><span style="transform:scaleX(1.080)">54</span></div>
<div class="c" style="left:306.3px;top:1109.02px;width:129.2px;"><span style="transform:scaleX(1.010)">1.50-1.85</span></div>
<div class="c" style="left:435.5px;top:1109.02px;width:129.1px;word-spacing:-1.5px;"><span style="transform:scaleX(1.040)">MH 90-21</span></div>
<div class="c" style="left:564.6px;top:1109.02px;width:128.2px;"><span style="transform:scaleX(1.075)">80/100-21</span></div>
<div class="c" style="left:692.8px;top:1109.02px;width:129.4px;"><span style="transform:scaleX(1.075)">80/90-21</span></div>
<div class="c" style="left:822.2px;top:1109.02px;width:128.3px;"><span style="transform:scaleX(1.075)">90/80-21</span></div>
<div class="c" style="left:49px;top:1137.6px;width:91px;"><span style="transform:scaleX(1.025)">3.00-21</span></div>
<div class="c" style="left:140px;top:1137.6px;width:85.4px;"><span style="transform:scaleX(1.080)">51</span></div>
<div class="c" style="left:225.4px;top:1137.6px;width:80.9px;"><span style="transform:scaleX(1.080)">57</span></div>
<div class="c" style="left:306.3px;top:1137.6px;width:129.2px;"><span style="transform:scaleX(1.010)">1.60-2.15</span></div>
<div class="c" style="left:435.5px;top:1137.6px;width:129.1px;word-spacing:-1.5px;"><span style="transform:scaleX(1.040)">MH 90-21</span></div>
<div class="c" style="left:564.6px;top:1137.6px;width:128.2px;"><span style="transform:scaleX(1.075)">90/100-21</span></div>
<div class="c" style="left:692.8px;top:1137.6px;width:129.4px;"><span style="transform:scaleX(1.075)">90/90-21</span></div>
<div class="c" style="left:822.2px;top:1137.6px;width:128.3px;"><span style="transform:scaleX(1.075)">100/80-21</span></div>
<div id="foot" class="abs"></div>
<svg class="abs" style="left:380px;top:1225px" width="100" height="90" viewBox="380 1225 100 90">
<defs><clipPath id="hc"><path d="M390,1251.3 C402,1245 415,1240.5 428,1238.2 C437,1236.6 448,1236.6 456,1238.5 C463,1240.5 466,1246 467.2,1253 C468.2,1259 468,1264 467.2,1270 C466.5,1275 466,1279 466.2,1284 L409.5,1304.6 C405,1305.2 401,1302 399.5,1297 C398,1291 399.5,1285 404.5,1277.5 L409,1277 L410,1258.3 L390.3,1252.8 Z"/></clipPath></defs>
<path d="M390,1251.3 C402,1245 415,1240.5 428,1238.2 C437,1236.6 448,1236.6 456,1238.5 C463,1240.5 466,1246 467.2,1253 C468.2,1259 468,1264 467.2,1270 C466.5,1275 466,1279 466.2,1284 L409.5,1304.6 C405,1305.2 401,1302 399.5,1297 C398,1291 399.5,1285 404.5,1277.5 L409,1277 L410,1258.3 L390.3,1252.8 Z" fill="#fdc607"/>
<rect x="404" y="1264.6" width="66" height="9.2" fill="#fff" clip-path="url(#hc)"/>
<path d="M408.4,1259.7 L430.4,1263.5 L428.6,1278.2 L407.8,1276.2 Z" fill="none" stroke="#000" stroke-width="3.8" stroke-linejoin="round"/>
</svg>
<div class="abs" style="left:474.59px;top:1235.5px;font-weight:bold;font-size:39px;line-height:46px;white-space:nowrap"><span style="display:inline-block;transform-origin:0 50%;transform:scaleX(1.0440);color:transparent;-webkit-background-clip:text;background-clip:text;background-image:linear-gradient(to bottom,#fdc607 0,#fdc607 28.9px,#fff 29.9px,#fff 100%)">Pitbike</span></div>
<div class="abs" style="left:476.6px;top:1276.25px;font-size:23px;line-height:28px;letter-spacing:5.65px;color:#fff;white-space:nowrap;will-change:transform">GARAGE</div>
</body></html>
